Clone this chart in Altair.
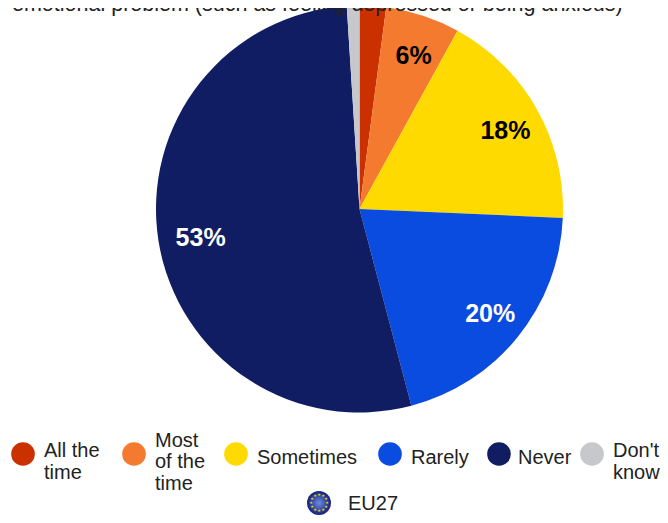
import altair as alt
import pandas as pd

categories = ["All the time", "Most of the time", "Sometimes", "Rarely", "Never", "Don't know"]
values = [2.1, 5.9, 17.7, 20.2, 53.1, 1.0]
colors = ["#CB3000", "#F47A30", "#FFDA00", "#0A4BE0", "#111D63", "#C6C8CB"]
labels = ["", "6%", "18%", "20%", "53%", ""]
label_colors = ["#000000", "#000000", "#000000", "#FFFFFF", "#FFFFFF", "#000000"]
legend_lines = [["All the", "time"], ["Most", "of the", "time"], ["Sometimes"], ["Rarely"], ["Never"], ["Don't", "know"]]
title_line = "emotional problem (such as feeling depressed or being anxious)"
eu_label = "EU27"
star_slots = list(range(12))

FONT = "Liberation Sans"
CX, CY, R = 351.5, 201, 203.5

df = pd.DataFrame({"cat": categories, "v": values, "o": range(6), "label": labels, "lc": label_colors})
color_scale = alt.Scale(domain=categories, range=colors)

base = alt.Chart(df).encode(
    theta=alt.Theta("v:Q", stack=True),
    order=alt.Order("o:Q"),
    x=alt.value(CX),
    y=alt.value(CY),
)
pie = base.mark_arc(radius=R, stroke=None).encode(color=alt.Color("cat:N", scale=color_scale, legend=None))
pct = base.mark_text(radius=164, dx=3, dy=2.5, font=FONT, fontWeight="bold", fontSize=25).encode(
    text="label:N", color=alt.Color("lc:N", scale=None)
)

layers = [pie, pct]

title = alt.Chart(pd.DataFrame({"t": [title_line]})).mark_text(
    font=FONT, fontSize=21.5, align="left", baseline="alphabetic", color="#222222"
).encode(text="t:N", x=alt.value(4), y=alt.value(3))
layers.append(title)

swatch_x = [15, 126, 228, 382, 491, 584]
text_x = [36, 147, 249, 403, 510, 605]
SW_Y = 446
LINE = 21.5
TEXT_SIZE = 20
for name, lines, sx, tx in zip(categories, legend_lines, swatch_x, text_x):
    layers.append(
        alt.Chart(pd.DataFrame({"c": [name]})).mark_point(filled=True, opacity=1, size=560, shape="circle").encode(
            x=alt.value(sx), y=alt.value(SW_Y), color=alt.Color("c:N", scale=color_scale, legend=None)
        )
    )
    n = len(lines)
    shift = 8 if n > 1 else 4
    for i, line in enumerate(lines):
        layers.append(
            alt.Chart(pd.DataFrame({"t": [line]})).mark_text(
                font=FONT, fontSize=TEXT_SIZE, align="left", baseline="middle", color="#222222"
            ).encode(text="t:N", x=alt.value(tx), y=alt.value(SW_Y + shift + (i - (n - 1) / 2) * LINE))
        )

flag_fill = alt.RadialGradient(
    gradient="radial",
    stops=[alt.GradientStop(offset=0, color="#6C8CE0"), alt.GradientStop(offset=1, color="#12207A")],
)
FLAG_Y = 495
layers.append(
    alt.Chart(pd.DataFrame({"a": [1]})).mark_point(filled=True, opacity=1, size=576, shape="circle", color=flag_fill).encode(
        x=alt.value(311), y=alt.value(FLAG_Y)
    )
)
layers.append(
    alt.Chart(pd.DataFrame({"s": star_slots, "t": ["★"] * 12})).mark_text(
        radius=8, fontSize=4, font="DejaVu Sans", color="#FFDA00"
    ).encode(
        theta=alt.Theta("s:Q", scale=alt.Scale(domain=[0, 12], range=[0, 6.283185])),
        x=alt.value(311), y=alt.value(FLAG_Y), text="t:N",
    )
)
layers.append(
    alt.Chart(pd.DataFrame({"t": [eu_label]})).mark_text(
        font=FONT, fontSize=TEXT_SIZE, align="left", baseline="middle", color="#222222"
    ).encode(text="t:N", x=alt.value(340), y=alt.value(FLAG_Y + 1))
)

chart = alt.layer(*layers).resolve_scale(theta="independent", color="independent").properties(
    width=652, height=507, autosize=alt.AutoSizeParams(type="none"), padding=0
).configure_view(stroke=None)

chart.save("out.html", embed_options={"renderer": "svg", "actions": False})
